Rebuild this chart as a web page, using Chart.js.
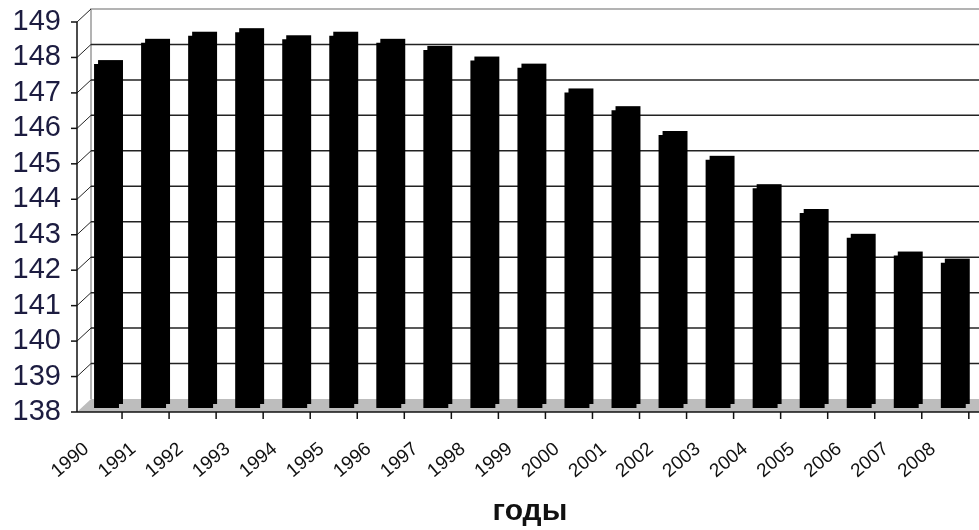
<!DOCTYPE html>
<html>
<head>
<meta charset="utf-8">
<script src="https://cdn.jsdelivr.net/npm/chart.js@4.4.1/dist/chart.umd.min.js"></script>
<style>
  html, body { margin: 0; padding: 0; background: #fff; overflow: hidden; }
  #wrap { width: 990px; height: 530px; }
</style>
</head>
<body>
<div id="wrap"><canvas id="popChart"></canvas></div>
<script>
// Data (population, millions)
const years = ['1990', '1991', '1992', '1993', '1994', '1995', '1996', '1997', '1998', '1999',
  '2000', '2001', '2002', '2003', '2004', '2005', '2006', '2007', '2008'];
const population = [147.7, 148.3, 148.5, 148.6, 148.4, 148.5, 148.3, 148.1, 147.8, 147.6,
  146.9, 146.4, 145.7, 145.0, 144.2, 143.5, 142.8, 142.3, 142.1];
const yMin = 138;
const yMax = 149;
const axisTitle = 'годы';

const FONT = 'Arial, "Liberation Sans", sans-serif';
const BACK = 9;   // back wall is drawn this many px above the bar plane
const FRONT = 4;  // front axis is this many px below the bar plane
const SIDE = 14;  // horizontal offset of back wall from front axis

// fake 3D walls, floor and axes
const wallsPlugin = {
  id: 'walls',
  beforeDatasetsDraw(chart) {
    const ctx = chart.ctx;
    const y = chart.scales.y;
    const x = chart.scales.x;
    const area = chart.chartArea;
    const frontX = area.left - 6;
    const backX = frontX + SIDE;
    const right = chart.width;
    const base = y.getPixelForValue(yMin);

    ctx.save();
    // floor
    ctx.fillStyle = '#bdbdbd';
    ctx.beginPath();
    ctx.moveTo(backX, base - BACK);
    ctx.lineTo(right, base - BACK);
    ctx.lineTo(right, base + FRONT);
    ctx.lineTo(frontX, base + FRONT);
    ctx.closePath();
    ctx.fill();

    // back wall outline
    ctx.strokeStyle = '#9a9a9a';
    ctx.lineWidth = 1.5;
    ctx.beginPath();
    ctx.moveTo(right, y.getPixelForValue(yMax) - BACK);
    ctx.lineTo(backX, y.getPixelForValue(yMax) - BACK);
    ctx.lineTo(backX, base - BACK);
    ctx.stroke();

    // grid lines on back wall + diagonals on side wall
    for (let v = yMin + 1; v <= yMax; v++) {
      const py = y.getPixelForValue(v);
      ctx.strokeStyle = '#222';
      ctx.lineWidth = 1.5;
      if (v < yMax) {
        ctx.beginPath();
        ctx.moveTo(backX, py - BACK);
        ctx.lineTo(right, py - BACK);
        ctx.stroke();
      }
      ctx.lineWidth = 1;
      ctx.beginPath();
      ctx.moveTo(frontX, py + FRONT);
      ctx.lineTo(backX, py - BACK);
      ctx.stroke();
    }

    // front value axis with ticks
    ctx.strokeStyle = '#111';
    ctx.lineWidth = 1.5;
    ctx.beginPath();
    ctx.moveTo(frontX, y.getPixelForValue(yMax) + FRONT);
    ctx.lineTo(frontX, base + FRONT);
    ctx.stroke();
    for (let v = yMin; v <= yMax; v++) {
      const py = y.getPixelForValue(v) + FRONT;
      ctx.beginPath();
      ctx.moveTo(frontX - 6, py);
      ctx.lineTo(frontX, py);
      ctx.stroke();
    }

    // front category axis with ticks between categories
    ctx.beginPath();
    ctx.moveTo(frontX, base + FRONT);
    ctx.lineTo(right, base + FRONT);
    ctx.stroke();
    const step = x.getPixelForValue(1) - x.getPixelForValue(0);
    for (let i = 0; i < years.length; i++) {
      const tx = x.getPixelForValue(i) + step / 2 - 8;
      ctx.beginPath();
      ctx.moveTo(tx, base + FRONT);
      ctx.lineTo(tx, base + FRONT + 7);
      ctx.stroke();
    }
    ctx.restore();
  },
  afterDatasetsDraw(chart) {
    // small depth on each column
    const ctx = chart.ctx;
    const bottom = chart.scales.y.getPixelForValue(yMin);
    ctx.save();
    ctx.fillStyle = '#000';
    chart.getDatasetMeta(0).data.forEach(function (bar) {
      const w = bar.width;
      ctx.fillRect(bar.x - w / 2 + 4, bar.y - 4, w, bottom - bar.y);
    });
    ctx.restore();
  }
};

const ctx = document.getElementById('popChart').getContext('2d');
const popChart = new Chart(ctx, {
  type: 'bar',
  data: {
    labels: years,
    datasets: [
      {
        data: population,
        backgroundColor: '#000',
        borderWidth: 0,
        categoryPercentage: 1,
        barPercentage: 0.53,
      },
    ],
  },
  options: {
    responsive: true,
    maintainAspectRatio: false,
    animation: false,
    layout: {
      padding: { top: 18, right: 2, bottom: 0, left: 0 },
    },
    scales: {
      x: {
        grid: { display: false },
        border: { display: false },
        ticks: {
          autoSkip: false,
          minRotation: 40,
          maxRotation: 40,
          labelOffset: -20,
          padding: 22,
          color: '#111',
          font: { family: FONT, size: 19 },
        },
        title: {
          display: true,
          text: axisTitle,
          color: '#111',
          font: { family: FONT, size: 30, weight: 'bold' },
          padding: 0,
        },
        afterFit: function (scale) {
          scale.height = 122;
        },
      },
      y: {
        min: yMin,
        max: yMax,
        grid: { display: false },
        border: { display: false },
        ticks: {
          stepSize: 1,
          autoSkip: false,
          padding: 14,
          labelOffset: 4,
          color: '#1c1c40',
          font: { family: FONT, size: 29 },
        },
        afterFit: function (scale) {
          scale.width = 83;
          // don't reserve extra room above/below for the labels
          scale.paddingTop = 0;
          scale.paddingBottom = 0;
        },
      },
    },
    plugins: {
      legend: { display: false },
      tooltip: { enabled: false },
    },
  },
  plugins: [wallsPlugin],
});
</script>
</body>
</html>
